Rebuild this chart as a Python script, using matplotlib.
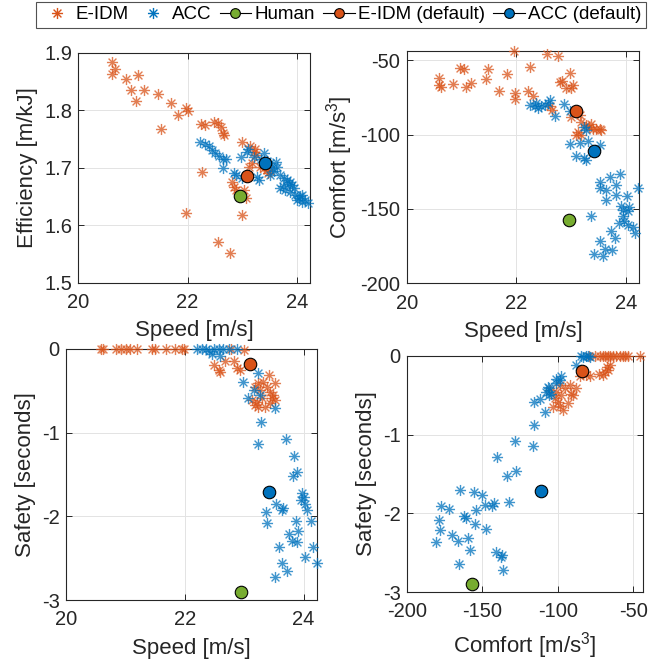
import numpy as np
import matplotlib
matplotlib.use('Agg')
import matplotlib.pyplot as plt
from matplotlib.path import Path
from matplotlib.lines import Line2D

plt.rcParams['font.family'] = ['Liberation Sans', 'DejaVu Sans']
plt.rcParams['mathtext.fontset'] = 'custom'
plt.rcParams['mathtext.rm'] = 'Liberation Sans'
plt.rcParams['mathtext.it'] = 'Liberation Sans:italic'
plt.rcParams['mathtext.default'] = 'regular'
plt.rcParams['axes.unicode_minus'] = False

# ---------------- data ----------------
# Panel 1: speed vs efficiency
eidm_speed_1 = [20.62, 20.67, 20.61, 20.88, 21.10, 20.97, 21.21, 21.06, 21.45, 21.70, 21.52, 21.83,
                21.97, 22.00, 22.24, 22.32, 22.48, 22.55, 22.61, 22.64, 22.66, 22.26, 21.97, 23.00,
                23.15, 23.21, 23.24, 23.18, 23.12, 23.33, 23.45, 23.48, 22.82, 22.85, 22.88, 23.03,
                23.06, 23.00, 22.56, 22.78, 23.50, 23.40, 23.26]
eidm_eff_1 = [1.883, 1.871, 1.863, 1.854, 1.861, 1.836, 1.836, 1.816, 1.829, 1.813, 1.768, 1.792,
              1.803, 1.799, 1.776, 1.774, 1.780, 1.777, 1.771, 1.760, 1.757, 1.693, 1.621, 1.744,
              1.737, 1.728, 1.732, 1.708, 1.702, 1.702, 1.696, 1.690, 1.676, 1.667, 1.661, 1.661,
              1.647, 1.618, 1.570, 1.552, 1.695, 1.700, 1.722]
acc_speed_1 = [22.23, 22.31, 22.39, 22.45, 22.51, 22.57, 22.64, 22.70, 22.64, 22.97, 23.09, 22.88,
               23.00, 23.27, 23.30, 23.21, 23.39, 23.51, 23.61, 23.64, 23.70, 23.76, 23.82, 23.88,
               23.91, 23.94, 23.70, 23.79, 23.88, 23.97, 24.03, 24.09, 24.15, 24.21, 24.00, 23.51,
               23.55, 23.85, 24.05, 24.10, 23.75, 23.58, 23.45, 23.35, 22.85, 23.10]
acc_eff_1 = [1.744, 1.741, 1.737, 1.731, 1.725, 1.720, 1.716, 1.715, 1.699, 1.719, 1.728, 1.687,
             1.682, 1.684, 1.679, 1.719, 1.725, 1.708, 1.710, 1.702, 1.687, 1.682, 1.679, 1.676,
             1.670, 1.664, 1.664, 1.661, 1.658, 1.653, 1.647, 1.653, 1.644, 1.638, 1.644, 1.687,
             1.700, 1.672, 1.650, 1.640, 1.668, 1.694, 1.712, 1.716, 1.690, 1.732]

# Panel 2: speed vs comfort
eidm_speed_2 = [21.96, 22.55, 22.76, 22.24, 21.48, 20.97, 21.04, 21.82, 22.98, 20.58, 21.45, 22.84,
                22.79, 23.03, 22.91, 23.00, 20.59, 20.63, 20.85, 21.18, 21.08, 21.68, 21.97, 22.21,
                22.30, 21.97, 22.61, 22.64, 23.00, 23.15, 23.18, 23.27, 23.33, 23.39, 23.45, 23.52,
                23.55, 23.36, 23.12, 23.18, 23.09]
eidm_comfort_2 = [-43.7, -45.7, -46.9, -54.5, -55.6, -55.2, -55.6, -59.2, -58.5, -61.9, -62.3, -63.7,
                  -64.6, -66.8, -68.6, -68.6, -66.8, -68.1, -65.9, -65.2, -68.1, -70.4, -72.0, -70.4,
                  -74.2, -75.8, -80.9, -83.2, -88.0, -86.9, -91.4, -93.6, -94.8, -95.9, -95.9, -96.5,
                  -97.0, -92.5, -98.1, -100.4, -100.4]
acc_speed_2 = [22.24, 22.33, 22.39, 22.45, 22.52, 22.58, 22.61, 22.36, 22.86, 22.70, 22.97, 23.24,
               23.27, 22.97, 23.15, 23.30, 23.52, 23.08, 23.24, 23.27, 23.88, 23.70, 23.53, 23.82,
               23.53, 23.64, 24.21, 23.82, 24.01, 23.64, 23.91, 24.05, 23.94, 24.03, 23.94, 23.87,
               23.97, 24.03, 24.12, 24.17, 23.36, 23.73, 23.79, 23.52, 23.61, 23.75, 23.41, 23.58]
acc_comfort_2 = [-79.8, -80.9, -82.1, -80.9, -79.8, -78.7, -76.5, -78.7, -79.1, -87.7, -84.3, -94.8,
                 -97.0, -106.3, -105.6, -104.5, -106.7, -114.6, -115.7, -116.9, -126.2, -128.4, -132.0, -133.6,
                 -136.2, -137.4, -136.2, -140.3, -141.0, -144.2, -147.7, -148.6, -150.4, -151.6, -155.0, -159.4,
                 -158.3, -160.5, -162.0, -166.1, -155.0, -165.0, -169.5, -171.8, -176.9, -177.8, -180.0, -181.4]

# Panel 3: speed vs safety
eidm_speed_3 = [20.59, 20.63, 20.84, 20.92, 21.01, 21.08, 21.19, 21.45, 21.49, 21.69, 21.83, 21.96,
                21.99, 22.77, 22.99, 22.49, 22.57, 22.60, 22.68, 22.82, 22.88, 22.93, 23.41, 23.52,
                23.32, 23.24, 23.18, 23.27, 23.38, 23.44, 23.49, 23.46, 23.30, 23.22, 23.13, 23.18,
                23.24, 23.35, 23.44, 23.52]
eidm_safety_3 = [0.0, 0.0, 0.0, 0.0, 0.0, 0.0, 0.0, 0.0, 0.0, 0.0, 0.0, 0.0,
                 0.0, 0.0, -0.01, -0.19, -0.25, -0.27, -0.14, -0.14, -0.23, -0.25, -0.31, -0.41,
                 -0.39, -0.41, -0.45, -0.49, -0.45, -0.51, -0.55, -0.59, -0.59, -0.63, -0.61, -0.67,
                 -0.69, -0.69, -0.65, -0.61]
acc_speed_3 = [22.21, 22.29, 22.35, 22.40, 22.49, 22.57, 22.65, 22.74, 22.88, 22.46, 22.60, 23.24,
               22.98, 23.16, 23.07, 23.27, 23.52, 23.28, 23.24, 23.70, 23.83, 23.89, 23.82, 23.97,
               24.00, 24.02, 24.05, 23.54, 23.63, 23.37, 23.39, 23.87, 23.91, 24.12, 23.76, 23.80,
               23.88, 23.58, 24.16, 24.02, 24.22, 23.63, 23.72, 23.52, 23.66, 23.95]
acc_safety_3 = [0.0, 0.0, 0.0, -0.02, 0.0, 0.0, 0.0, 0.0, 0.0, -0.06, -0.08, -0.29,
                -0.39, -0.49, -0.59, -0.55, -0.71, -0.87, -1.14, -1.08, -1.28, -1.47, -1.52, -1.72,
                -1.77, -1.85, -1.92, -1.85, -1.93, -1.95, -2.08, -2.06, -2.17, -2.06, -2.21, -2.30,
                -2.31, -2.37, -2.37, -2.49, -2.56, -2.56, -2.65, -2.73, -1.90, -1.80]

# Panel 4: comfort vs safety
eidm_comfort_4 = [-75.4, -72.1, -68.8, -65.5, -63.3, -61.1, -58.9, -55.5, -53.3, -45.6, -79.0, -70.0,
                  -67.0, -57.0, -67.7, -65.5, -68.8, -69.9, -66.6, -72.6, -81.0, -78.8, -85.4, -98.7,
                  -95.4, -97.6, -92.1, -91.0, -100.9, -103.1, -98.7, -96.5, -93.2, -89.8, -87.6, -102.0,
                  -99.8, -105.3]
eidm_safety_4 = [0.0, 0.0, 0.0, 0.0, 0.0, 0.0, 0.0, 0.0, 0.0, 0.0, 0.0, 0.0,
                 0.0, 0.0, -0.14, -0.11, -0.20, -0.24, -0.18, -0.23, -0.24, -0.26, -0.26, -0.37,
                 -0.41, -0.50, -0.37, -0.48, -0.46, -0.65, -0.63, -0.69, -0.60, -0.50, -0.41, -0.54,
                 -0.58, -0.43]
acc_comfort_4 = [-181.0, -178.8, -178.3, -177.2, -172.1, -164.6, -162.4, -161.1, -169.9, -166.2, -159.5, -157.9,
                 -165.5, -155.8, -154.4, -155.1, -150.0, -148.5, -147.8, -143.4, -142.5, -140.7, -137.4, -136.7,
                 -136.3, -133.6, -127.4, -132.3, -140.3, -128.5, -116.0, -116.4, -108.5, -115.5, -112.0, -105.8,
                 -105.8, -101.3, -98.7, -88.1, -83.2, -81.0, -78.8, -84.3, -80.0, -100.9, -97.6, -106.4,
                 -107.5, -104.2]
acc_safety_4 = [-2.36, -2.09, -2.21, -1.91, -1.94, -1.70, -2.03, -2.06, -2.27, -2.35, -2.31, -2.46,
                -2.65, -1.73, -1.96, -2.14, -1.77, -1.90, -2.20, -1.91, -1.87, -2.49, -2.55, -2.53,
                -2.72, -1.53, -1.46, -1.86, -1.28, -1.08, -0.88, -1.15, -0.71, -0.58, -0.55, -0.41,
                -0.49, -0.34, -0.30, -0.11, -0.01, 0.0, -0.01, 0.0, 0.0, -0.29, -0.26, -0.39,
                -0.46, -0.48]

# default operating points: [speed, efficiency, comfort, safety]
human_default = [22.95, 1.651, -157.2, -2.90]
eidm_default = [23.09, 1.686, -83.9, -0.185]
acc_default = [23.41, 1.709, -111.0, -1.71]

legend_labels = ['E-IDM', 'ACC', 'Human', 'E-IDM (default)', 'ACC (default)']

# ---------------- style ----------------
ORANGE = '#D95319'
BLUE = '#0072BD'
GREEN = '#77AC30'
TXT = '#262626'
TICK_FS = 14.5
LABEL_FS = 16

d = 0.7071
star = Path([(-1, 0), (1, 0), (0, -1), (0, 1), (-d, -d), (d, d), (-d, d), (d, -d)],
            [Path.MOVETO, Path.LINETO] * 4)

fig = plt.figure(figsize=(6.72, 6.66), dpi=100)
W, H = 672.0, 666.0


def mk_ax(l, t, r, b):
    return fig.add_axes([l / W, 1 - b / H, (r - l) / W, (b - t) / H])


ax1 = mk_ax(78.3, 52.7, 310.0, 282.7)
ax2 = mk_ax(406.7, 51.0, 639.3, 283.3)
ax3 = mk_ax(66.0, 349.0, 316.7, 600.0)
ax4 = mk_ax(407.0, 356.0, 643.0, 592.0)


def stars(ax, x, y, color):
    ax.plot(x, y, ls='none', marker=star, ms=8, mew=1.0, mec=color, mfc='none',
            alpha=0.75, clip_on=False, zorder=3)


def default(ax, x, y, color):
    ax.plot([x], [y], ls='-', color='k', lw=0.8, marker='o', ms=9, mfc=color, mec='k',
            mew=0.8, clip_on=False, zorder=5)


def style(ax, xlim, ylim, xticks, yticks, xlabel, ylabel):
    ax.set_xlim(xlim)
    ax.set_ylim(ylim)
    ax.set_xticks(xticks)
    ax.set_yticks(yticks)
    ax.set_xticklabels([('%g' % v) for v in xticks])
    ax.set_yticklabels([('%g' % v) for v in yticks])
    ax.grid(True, color='#E3E3E3', lw=0.7)
    ax.set_axisbelow(True)
    ax.tick_params(direction='in', top=True, right=True, length=4, width=0.7,
                   color=TXT, labelcolor=TXT, labelsize=TICK_FS)
    ax.tick_params(axis='x', pad=7.5)
    ax.tick_params(axis='y', pad=4.5)
    for s in ax.spines.values():
        s.set_color(TXT)
        s.set_linewidth(0.8)
    ax.set_xlabel(xlabel, fontsize=LABEL_FS, color=TXT, labelpad=6)
    ax.set_ylabel(ylabel, fontsize=LABEL_FS, color=TXT, labelpad=4)


comfort_label = r'Comfort [m/s$^{3}$]'

# panel 1
stars(ax1, eidm_speed_1, eidm_eff_1, ORANGE)
stars(ax1, acc_speed_1, acc_eff_1, BLUE)
default(ax1, human_default[0], human_default[1], GREEN)
default(ax1, eidm_default[0], eidm_default[1], ORANGE)
default(ax1, acc_default[0], acc_default[1], BLUE)
style(ax1, (20, 24.24), (1.5, 1.9), [20, 22, 24], [1.5, 1.6, 1.7, 1.8, 1.9],
      'Speed [m/s]', 'Efficiency [m/kJ]')

# panel 2
stars(ax2, eidm_speed_2, eidm_comfort_2, ORANGE)
stars(ax2, acc_speed_2, acc_comfort_2, BLUE)
default(ax2, human_default[0], human_default[2], GREEN)
default(ax2, eidm_default[0], eidm_default[2], ORANGE)
default(ax2, acc_default[0], acc_default[2], BLUE)
style(ax2, (20, 24.24), (-200, -43.7), [20, 22, 24], [-200, -150, -100, -50],
      'Speed [m/s]', comfort_label)

# panel 3
stars(ax3, eidm_speed_3, eidm_safety_3, ORANGE)
stars(ax3, acc_speed_3, acc_safety_3, BLUE)
default(ax3, human_default[0], human_default[3], GREEN)
default(ax3, eidm_default[0], eidm_default[3], ORANGE)
default(ax3, acc_default[0], acc_default[3], BLUE)
style(ax3, (20, 24.22), (-3, 0), [20, 22, 24], [-3, -2, -1, 0],
      'Speed [m/s]', 'Safety [seconds]')

# panel 4
stars(ax4, eidm_comfort_4, eidm_safety_4, ORANGE)
stars(ax4, acc_comfort_4, acc_safety_4, BLUE)
default(ax4, human_default[2], human_default[3], GREEN)
default(ax4, eidm_default[2], eidm_default[3], ORANGE)
default(ax4, acc_default[2], acc_default[3], BLUE)
style(ax4, (-200, -43.5), (-3, 0), [-200, -150, -100, -50], [-3, -2, -1, 0],
      comfort_label, 'Safety [seconds]')

# legend
handles = [
    Line2D([], [], ls='none', marker=star, ms=8, mew=1.0, mec=ORANGE, mfc='none'),
    Line2D([], [], ls='none', marker=star, ms=8, mew=1.0, mec=BLUE, mfc='none'),
    Line2D([], [], ls='-', color='k', lw=0.8, marker='o', ms=7, mfc=GREEN, mec='k', mew=0.8),
    Line2D([], [], ls='-', color='k', lw=0.8, marker='o', ms=7, mfc=ORANGE, mec='k', mew=0.8),
    Line2D([], [], ls='-', color='k', lw=0.8, marker='o', ms=7, mfc=BLUE, mec='k', mew=0.8),
]
leg = fig.legend(handles, legend_labels, loc='upper center', bbox_to_anchor=(341 / W, 1 - 1.5 / H),
                 ncol=5, frameon=True, fancybox=False, edgecolor=TXT, fontsize=13.5,
                 handlelength=1.7, handletextpad=0.15, columnspacing=0.45, borderpad=0.25,
                 borderaxespad=0)
leg.get_frame().set_linewidth(0.8)
for t in leg.get_texts():
    t.set_color('k')

fig.savefig('out.png', dpi=100)
